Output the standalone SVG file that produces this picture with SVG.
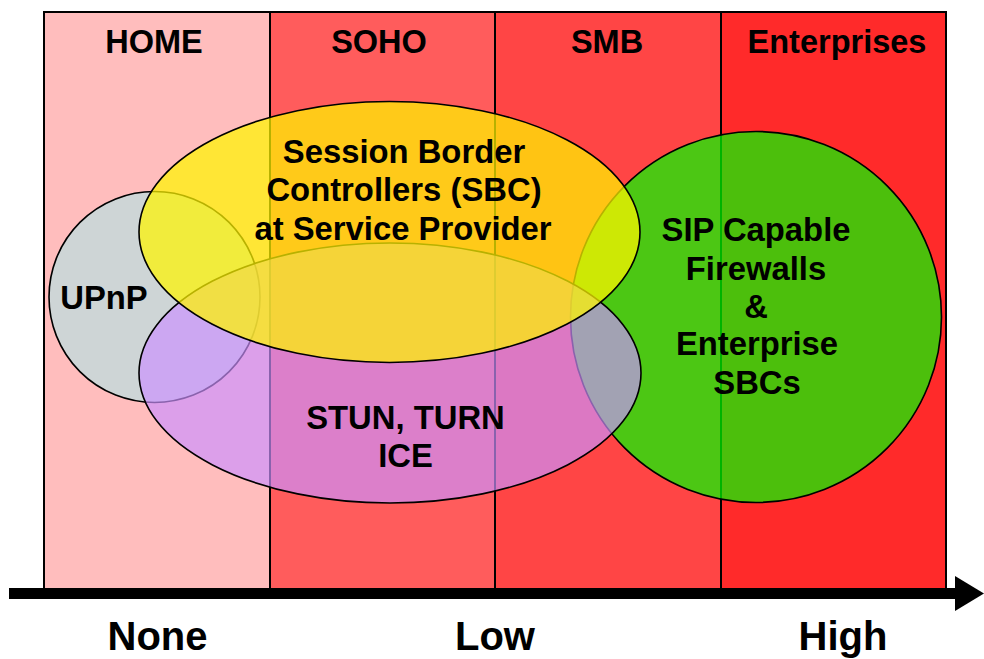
<svg xmlns="http://www.w3.org/2000/svg" width="984" height="659" viewBox="0 0 984 659">
<style>
text{font-family:"Liberation Sans",Arial,sans-serif;font-weight:bold;fill:#000;text-anchor:middle}
.h{font-size:32.5px}
.b{font-size:32.8px}
.a{font-size:40px}
.col{stroke:#000;stroke-width:2}
.ov{stroke:#000;stroke-width:1.6}
</style>
<rect width="984" height="659" fill="#fff"/>
<g id="columns">
<rect x="44" y="12" width="226" height="576" fill="#FFBDBD"/>
<rect x="270" y="12" width="225" height="576" fill="#FF5C5C"/>
<rect x="495" y="12" width="226" height="576" fill="#FF4545"/>
<rect x="721" y="12" width="225" height="576" fill="#FF2A2A"/>
<path class="col" fill="none" d="M44,588V12H946V588M270,12V588M495,12V588M721,12V588"/>
<text class="h" x="154" y="53">HOME</text>
<text class="h" x="379" y="53">SOHO</text>
<text class="h" x="607" y="53">SMB</text>
<text class="h" x="837" y="53">Enterprises</text>
</g>
<g id="upnp">
<circle class="ov" cx="154.5" cy="297" r="105.5" fill="#CED5D6"/>
<text class="b" x="104" y="309">UPnP</text>
</g>
<g id="sip">
<circle class="ov" cx="756" cy="317" r="185.5" fill="#00FF00" fill-opacity="0.7"/>
</g>
<g id="stun">
<ellipse class="ov" cx="390" cy="373" rx="251" ry="130" fill="#CC91FF" fill-opacity="0.68"/>
</g>
<g id="sbc">
<ellipse class="ov" cx="389.5" cy="232" rx="250.5" ry="130.5" fill="#FFF500" fill-opacity="0.72"/>
</g>
<g id="labels">
<text class="b" x="404" y="163">Session Border</text>
<text class="b" x="404" y="201">Controllers (SBC)</text>
<text class="b" x="403" y="240">at Service Provider</text>
<text class="b" x="405.5" y="429">STUN, TURN</text>
<text class="b" x="405.5" y="467">ICE</text>
<text class="b" x="756" y="241">SIP Capable</text>
<text class="b" x="756" y="280">Firewalls</text>
<text class="b" x="756" y="318">&amp;</text>
<text class="b" x="757" y="355">Enterprise</text>
<text class="b" x="757" y="394">SBCs</text>
</g>
<g id="connectors">
<rect x="9" y="588" width="948" height="11" fill="#000"/>
<polygon points="955,576 984,593.5 955,611" fill="#000"/>
</g>
<g id="axis">
<text class="a" x="157.5" y="650">None</text>
<text class="a" x="495" y="650">Low</text>
<text class="a" x="843" y="650">High</text>
</g>
</svg>
